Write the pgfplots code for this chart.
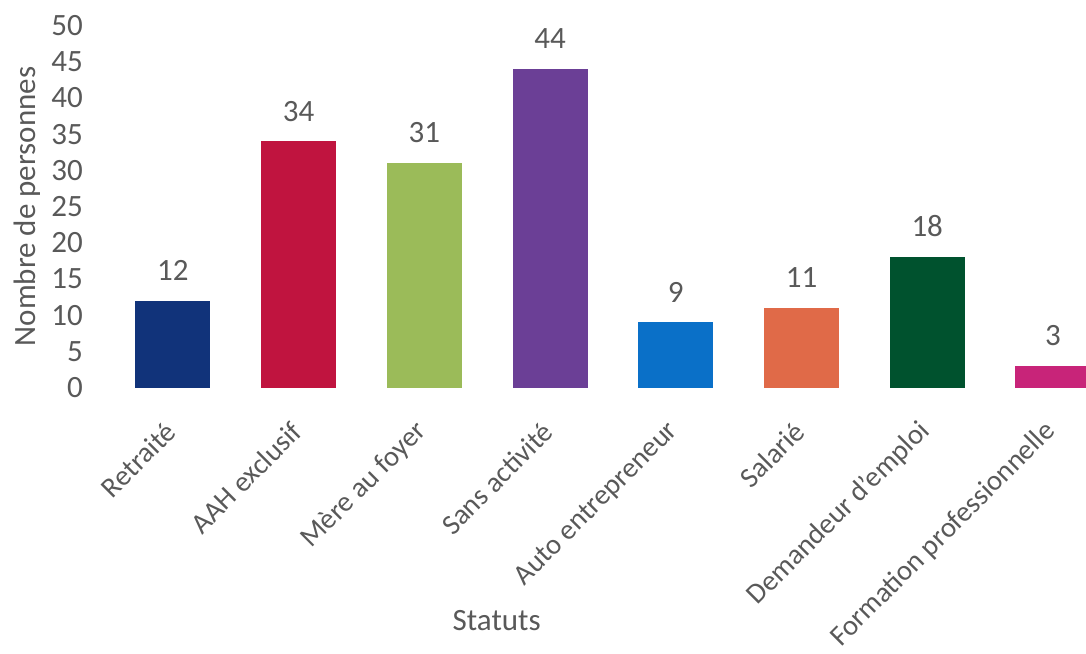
\documentclass[border=0pt]{standalone}
\usepackage{pgfplots}
\pgfplotsset{compat=1.18}
\usepackage{fontspec}
\setmainfont{Carlito}
\definecolor{txt}{HTML}{595959}
\definecolor{c1}{HTML}{11337A}
\definecolor{c2}{HTML}{C0143F}
\definecolor{c3}{HTML}{9BBB59}
\definecolor{c4}{HTML}{6B3F96}
\definecolor{c5}{HTML}{0A70C8}
\definecolor{c6}{HTML}{E06A48}
\definecolor{c7}{HTML}{00522E}
\definecolor{c8}{HTML}{C82479}
\begin{document}
\begin{tikzpicture}
\begin{axis}[
	name=ax,
	scale only axis,
	width=491pt, height=181pt,
	ybar, bar width=37.5pt, bar shift=0pt,
	xmin=-0.55, xmax=7.263,
	ymin=0, ymax=50,
	ytick={0,5,...,50},
	xtick={0,...,7},
	xticklabels={Retraité,AAH exclusif,Mère au foyer,Sans activité,Auto entrepreneur,Salarié,Demandeur d'emploi,Formation professionnelle},
	axis lines=none,
	major tick length=0pt,
	font=\fontsize{15.5}{18}\selectfont,
	every tick label/.style={text=txt},
	/pgf/number format/assume math mode=true,
	xticklabel style={font=\fontsize{14.3}{17}\selectfont, xshift=1.5pt, yshift=-17.3pt, rotate=45, anchor=east},
	yticklabel style={anchor=east, xshift=-7pt},
	hide x axis=false, hide y axis=false,
	x axis line style={draw=none}, y axis line style={draw=none},
	xlabel={Statuts}, ylabel={Nombre de personnes},
	label style={text=txt},
	xlabel style={at={(axis description cs:0.40,0)}, anchor=north, yshift=-108pt},
	ylabel style={at={(axis description cs:0,0.5)}, anchor=south, yshift=28pt},
	nodes near coords,
	nodes near coords style={text=txt, yshift=6.5pt},
]
\addplot[fill=c1, draw=none] coordinates {(0,12)};
\addplot[fill=c2, draw=none] coordinates {(1,34)};
\addplot[fill=c3, draw=none] coordinates {(2,31)};
\addplot[fill=c4, draw=none] coordinates {(3,44)};
\addplot[fill=c5, draw=none] coordinates {(4,9)};
\addplot[fill=c6, draw=none] coordinates {(5,11)};
\addplot[fill=c7, draw=none] coordinates {(6,18)};
\addplot[fill=c8, draw=none] coordinates {(7,3)};
\end{axis}
\pgfresetboundingbox
\path[use as bounding box] ([shift={(-51.9pt,-133pt)}]ax.south west) rectangle ([shift={(0pt,12.75pt)}]ax.north east);
\end{tikzpicture}
\end{document}
